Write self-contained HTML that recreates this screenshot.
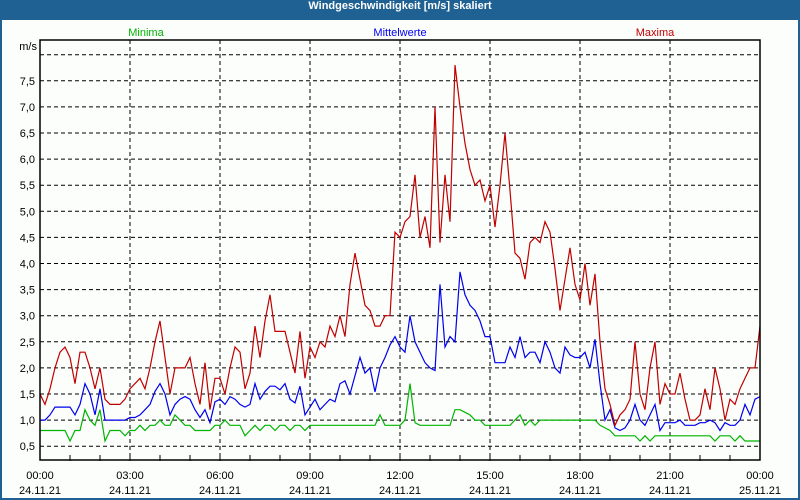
<!DOCTYPE html>
<html><head><meta charset="utf-8"><style>
body{margin:0;background:#fff;}
#wrap{position:relative;width:800px;height:500px;overflow:hidden;background:#1f6193;}
#inner{position:absolute;left:2px;top:20px;width:796px;height:478px;background:#fcfefc;}
#title{position:absolute;left:0;top:0;width:800px;height:20px;line-height:20px;text-align:center;color:#fff;font:bold 11px "Liberation Sans",sans-serif;}
svg{position:absolute;left:0;top:0;}
text{font-family:"Liberation Sans",sans-serif;font-size:11px;}
</style></head><body>
<div id="wrap">
<div id="title">Windgeschwindigkeit [m/s] skaliert</div>
<div id="inner"></div>
<svg id="chart" width="800" height="500"></svg>
</div>
<script>
const yTicks=[0.5,1.0,1.5,2.0,2.5,3.0,3.5,4.0,4.5,5.0,5.5,6.0,6.5,7.0,7.5,8.0];
const xTickHours=[0,3,6,9,12,15,18,21,24];
const xTimeLabels=["00:00","03:00","06:00","09:00","12:00","15:00","18:00","21:00","00:00"];
const xDateLabels=["24.11.21","24.11.21","24.11.21","24.11.21","24.11.21","24.11.21","24.11.21","24.11.21","25.11.21"];
const maxima=[1.5,1.3,1.6,2.0,2.3,2.4,2.2,1.7,2.3,2.3,2.0,1.6,2.0,1.4,1.3,1.3,1.3,1.4,1.6,1.7,1.8,1.6,2.0,2.5,2.9,2.2,1.5,2.0,2.0,2.0,2.2,1.7,1.3,2.1,1.2,1.8,1.8,1.5,2.0,2.4,2.3,1.6,1.9,2.8,2.2,2.9,3.4,2.7,2.7,2.7,2.3,1.9,2.7,1.8,2.4,2.2,2.5,2.4,2.8,2.6,3.0,2.6,3.6,4.2,3.7,3.2,3.1,2.8,2.8,3.0,3.0,4.6,4.5,4.8,4.9,5.7,4.5,4.9,4.3,7.0,4.4,5.7,4.8,7.8,7.0,6.3,5.8,5.5,5.6,5.2,5.5,4.7,5.5,6.5,5.4,4.2,4.1,3.7,4.4,4.5,4.4,4.8,4.6,3.9,3.1,3.7,4.3,3.6,3.3,4.0,3.2,3.8,2.5,1.6,1.3,0.9,1.1,1.2,1.4,2.5,1.5,1.2,2.0,2.5,1.3,1.7,1.5,1.5,1.9,1.4,1.0,1.0,1.1,1.6,1.2,2.0,1.6,1.0,1.4,1.3,1.6,1.8,2.0,2.0,2.8];
const mittel=[1.0,1.0,1.1,1.25,1.25,1.25,1.25,1.1,1.3,1.7,1.5,1.1,1.6,1.0,1.0,1.0,1.0,1.0,1.05,1.05,1.1,1.2,1.3,1.55,1.7,1.5,1.1,1.3,1.4,1.45,1.4,1.2,1.05,1.2,0.95,1.35,1.4,1.3,1.45,1.4,1.3,1.25,1.3,1.7,1.4,1.55,1.65,1.65,1.58,1.7,1.4,1.33,1.65,1.1,1.25,1.4,1.2,1.3,1.4,1.35,1.7,1.75,1.5,1.85,2.2,1.9,2.0,1.54,2.0,2.2,2.44,2.6,2.4,2.3,3.0,2.5,2.3,2.1,2.0,1.95,3.6,2.4,2.6,2.5,3.84,3.4,3.2,3.1,2.9,2.6,2.6,2.1,2.1,2.1,2.4,2.2,2.6,2.2,2.3,2.3,2.1,2.5,2.3,2.0,1.9,2.4,2.25,2.2,2.2,2.3,2.0,2.55,1.7,1.0,1.2,0.85,0.8,0.85,1.0,1.3,1.0,0.9,1.1,1.3,0.8,0.95,0.95,0.95,1.0,0.9,0.9,0.9,0.95,0.95,1.0,0.95,0.8,0.95,0.9,0.9,1.0,1.3,1.1,1.4,1.45];
const minima=[0.8,0.8,0.8,0.8,0.8,0.8,0.6,0.8,0.8,1.2,1.0,0.9,1.2,0.6,0.8,0.8,0.8,0.7,0.8,0.8,0.9,0.8,0.9,0.9,1.0,0.9,0.9,1.1,1.0,0.9,0.9,0.8,0.8,0.8,0.8,0.9,0.9,1.0,0.9,0.9,0.9,0.7,0.8,0.9,0.8,0.9,0.9,0.8,0.9,0.9,0.8,0.9,0.9,0.8,0.9,0.9,0.9,0.9,0.9,0.9,0.9,0.9,0.9,0.9,0.9,0.9,0.9,0.9,1.1,0.9,0.9,0.9,0.9,1.0,1.7,0.95,0.9,0.9,0.9,0.9,0.9,0.9,0.9,1.2,1.2,1.15,1.1,1.0,1.0,0.9,0.9,0.9,0.9,0.9,0.9,1.0,1.1,0.9,1.0,0.9,1.0,1.0,1.0,1.0,1.0,1.0,1.0,1.0,1.0,1.0,1.0,1.0,0.9,0.85,0.8,0.7,0.7,0.7,0.7,0.7,0.6,0.7,0.6,0.7,0.7,0.7,0.7,0.7,0.7,0.7,0.7,0.7,0.7,0.7,0.7,0.6,0.7,0.7,0.7,0.6,0.7,0.6,0.6,0.6,0.6];

const L=40,R=760,T=40,B=460;
function xs(h){return L+(R-L)*h/24;}
function ys(v){return 472.3-52.2*v;}
const NS="http://www.w3.org/2000/svg";
const svg=document.getElementById('chart');
function mk(tag,attrs,parent){const e=document.createElementNS(NS,tag);for(const k in attrs)e.setAttribute(k,attrs[k]);(parent||svg).appendChild(e);return e;}
// grid
yTicks.forEach(v=>{
  const g=mk('line',{x1:L,x2:R,y1:ys(v),y2:ys(v),stroke:'#000','stroke-dasharray':'4,3','stroke-width':1});
  
  
  if(v<8){
    const t=mk('text',{x:35,y:ys(v)+4,'text-anchor':'end',fill:'#000'});
    t.textContent=v.toFixed(1).replace('.',',');
    
    
  }
});
xTickHours.forEach((h,i)=>{
  if(i>0&&i<xTickHours.length-1){
    const g=mk('line',{x1:xs(h),x2:xs(h),y1:T,y2:B,stroke:'#000','stroke-dasharray':'4,3'});
    
    
  }
  const t1=mk('text',{x:xs(h),y:479,'text-anchor':'middle',fill:'#000'});
  t1.textContent=xTimeLabels[i];
  
  
  const t2=mk('text',{x:xs(h),y:494,'text-anchor':'middle',fill:'#000'});
  t2.textContent=xDateLabels[i];
  
  
});
for(let h=1;h<24;h++){
  const m=mk('line',{x1:xs(h),x2:xs(h),y1:B-5,y2:B+1,stroke:'#000'});
  
  
}
// series
function series(arr,color,name){
  const n=arr.length-1;
  const pts=arr.map((v,i)=>xs(24*i/n).toFixed(1)+','+ys(v).toFixed(1)).join(' ');
  const p=mk('polyline',{points:pts,fill:'none',stroke:color,'stroke-width':1.2,'stroke-linejoin':'miter'});
  
  
}
series(minima,'#00b400','series-minima');
series(mittel,'#0000ee','series-mittelwerte');
series(maxima,'#c00000','series-maxima');
// frame
const f=mk('rect',{x:L,y:T,width:R-L,height:B-T,fill:'none',stroke:'#000','stroke-width':1.5});


const u=mk('text',{x:37,y:50,'text-anchor':'end',fill:'#000'});
u.textContent='m/s';


[['Minima',146,'#00b400','legend-minima'],['Mittelwerte',400,'#0000ee','legend-mittelwerte'],['Maxima',655,'#c00000','legend-maxima']].forEach(a=>{
  const t=mk('text',{x:a[1],y:36,'text-anchor':'middle',fill:a[2]});
  t.textContent=a[0];
  
  
});
</script>
</body></html>
